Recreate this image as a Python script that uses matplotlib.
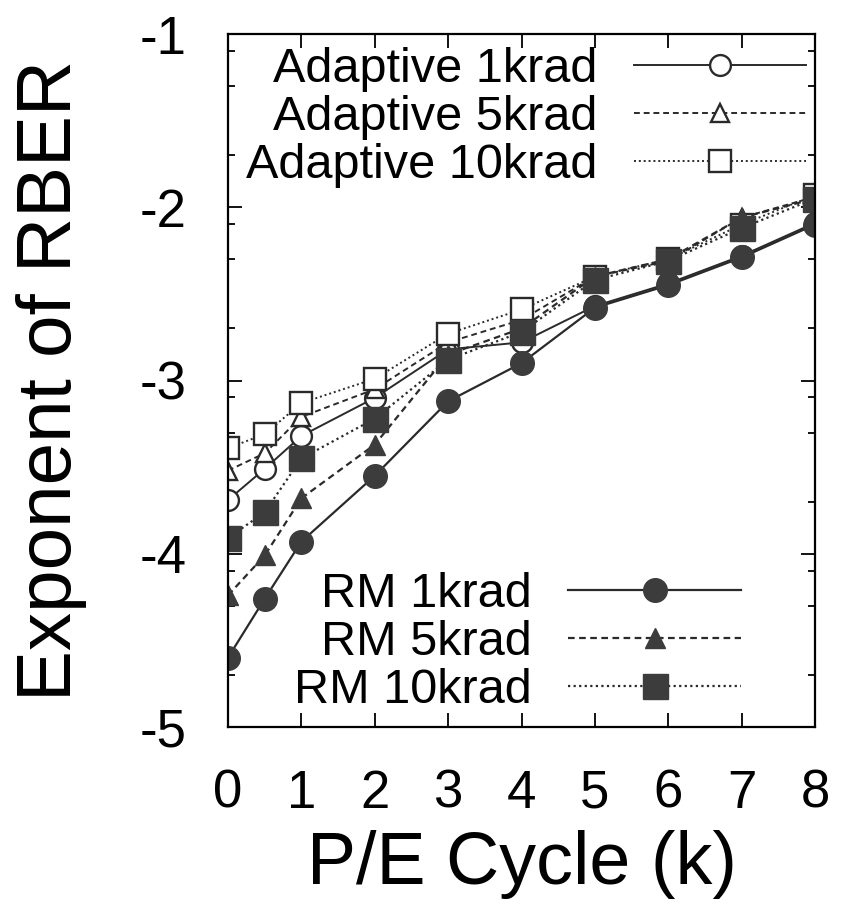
import matplotlib
matplotlib.use("Agg")
import matplotlib.pyplot as plt
import numpy as np

plt.rcParams['font.family'] = ['Liberation Sans', 'DejaVu Sans']
plt.rcParams['axes.unicode_minus'] = False

# P/E cycles (k)
pe_cycle = [0, 0.5, 1, 2, 3, 4, 5, 6, 7, 8]

# exponent of RBER
adaptive_1k = [-3.69, -3.51, -3.32, -3.10, -2.82, -2.78, -2.57, -2.44, -2.28, -2.09]
adaptive_5k = [-3.52, -3.42, -3.21, -3.05, -2.78, -2.65, -2.40, -2.31, -2.06, -1.94]
adaptive_10k = [-3.39, -3.31, -3.13, -2.99, -2.73, -2.59, -2.40, -2.30, -2.10, -1.93]
rm_1k = [-4.60, -4.26, -3.93, -3.55, -3.12, -2.90, -2.58, -2.45, -2.29, -2.10]
rm_5k = [-4.24, -4.01, -3.68, -3.37, -2.85, -2.70, -2.40, -2.30, -2.06, -1.95]
rm_10k = [-3.91, -3.76, -3.45, -3.22, -2.88, -2.72, -2.42, -2.31, -2.12, -1.95]

line_col = '#2a2a2a'
fill_col = '#3c3c3c'
dash = (0, (3, 2))
dot = (0, (1, 1.5))

fig = plt.figure(figsize=(8.46, 9.24), dpi=100)
ax = fig.add_axes([228 / 846, 1 - 727 / 924, (815 - 228) / 846, (727 - 34) / 924])

# adaptive (open markers)
a1, = ax.plot(pe_cycle, adaptive_1k, color=line_col, lw=1.4, ls='-', marker='o', ms=15,
              mfc='white', mec=line_col, mew=1.7, label='Adaptive 1krad')
a2, = ax.plot(pe_cycle, adaptive_5k, color=line_col, lw=1.4, ls=dash, marker='^', ms=13,
              mfc='white', mec=line_col, mew=1.7, label='Adaptive 5krad')
a3, = ax.plot(pe_cycle, adaptive_10k, color=line_col, lw=1.4, ls=dot, marker='s', ms=16,
              mfc='white', mec=line_col, mew=1.7, label='Adaptive 10krad')

# RM (filled markers)
r1, = ax.plot(pe_cycle, rm_1k, color=line_col, lw=1.6, ls='-', marker='o', ms=17,
              mfc=fill_col, mec=fill_col, label='RM 1krad')
r2, = ax.plot(pe_cycle, rm_5k, color=line_col, lw=1.6, ls=dash, marker='^', ms=14,
              mfc=fill_col, mec=fill_col, label='RM 5krad')
r3, = ax.plot(pe_cycle, rm_10k, color=line_col, lw=1.6, ls=dot, marker='s', ms=18,
              mfc=fill_col, mec=fill_col, label='RM 10krad')

ax.set_xlim(0, 8)
ax.set_ylim(-5, -1)
ax.set_xticks(range(0, 9))
ax.set_yticks([-5, -4, -3, -2, -1])
minor = [k + np.log10(m) for k in range(-5, -1) for m in (2, 5, 8)]
ax.set_yticks(minor, minor=True)

ax.tick_params(which='both', direction='in', top=True, right=True, width=1.3, colors='black')
ax.tick_params(which='major', length=10, labelsize=38, pad=30)
ax.tick_params(which='minor', length=5)
for s in ax.spines.values():
    s.set_linewidth(1.6)

ax.set_xlabel('P/E Cycle (k)', fontsize=53, labelpad=8)
ax.set_ylabel('Exponent of RBER', fontsize=55)
ax.yaxis.set_label_coords(-0.24, 0.5)

leg_kw = dict(markerfirst=False, frameon=False, fontsize=35, handlelength=3.55,
              handletextpad=0.75, labelspacing=0.06, borderpad=0, borderaxespad=0)
leg1 = ax.legend(handles=[a1, a2, a3], loc='upper right',
                 bbox_to_anchor=(0.985, 0.981), **leg_kw)
ax.add_artist(leg1)
ax.legend(handles=[r1, r2, r3], loc='lower right',
          bbox_to_anchor=(0.874, 0.02), **leg_kw)

fig.savefig('out.png', dpi=100)
